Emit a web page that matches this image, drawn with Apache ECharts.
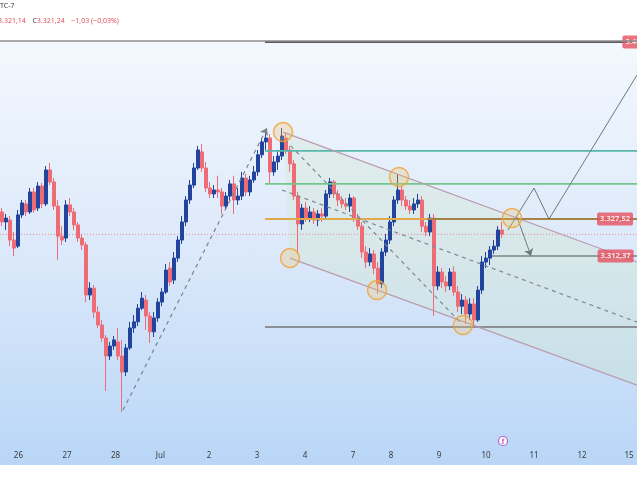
<!DOCTYPE html>
<html><head><meta charset="utf-8">
<script src="https://cdn.jsdelivr.net/npm/echarts@6/dist/echarts.min.js"></script>
<style>
html,body{margin:0;padding:0;background:#fff;}
#c{width:637px;height:478px;background:linear-gradient(to bottom,#ffffff 0px,#ffffff 41px,#f4f8fe 42px,#dce9fa 250px,#b9d6f7 465px,#ffffff 465px,#ffffff 478px);}
</style></head><body><div id="c"></div>
<script>
// ---- axis labels ----
const dayLabels = ['26','27','28','Jul','2','3','4','7','8','9','10','11','12','15'];
const dayPositions = [4.1,16.25,28.4,39.6,51.75,63.75,75.75,87.75,97.25,109.25,121,133,145,156.75];

// ---- OHLC (bar index = array index) ----
const opens = [3330.4,3326.3,3327.1,3318.9,3316.4,3329.2,3333.7,3330.4,3338.6,3332.0,
3341.0,3333.7,3347.6,3342.7,3332.8,3320.5,3319.7,3333.3,3330.4,3325.1,
3319.7,3316.9,3296.4,3299.2,3289.4,3284.1,3278.8,3271.4,3275.5,3277.2,
3271.4,3264.9,3274.7,3282.9,3285.4,3291.0,3294.3,3287.8,3281.3,3287.0,
3293.5,3297.6,3307.4,3302.5,3311.5,3318.9,3326.3,3335.3,3341.4,3348.4,
3355.0,3348.4,3340.2,3337.8,3339.4,3338.6,3332.8,3336.9,3341.9,3335.3,
3336.9,3344.3,3338.6,3343.5,3346.8,3353.8,3359.1,3360.7,3346.8,3350.9,
3353.3,3360.7,3355.8,3350.1,3336.9,3325.5,3332.0,3327.9,3330.4,3327.1,
3329.6,3328.7,3337.8,3342.7,3337.8,3335.3,3333.7,3332.8,3336.1,3327.9,
3324.6,3314.0,3309.9,3313.2,3307.4,3300.9,3314.0,3318.9,3326.3,3335.3,
3339.4,3335.3,3332.8,3331.2,3333.7,3335.3,3324.6,3322.2,3327.9,3300.1,
3305.8,3301.7,3300.1,3305.8,3297.6,3291.8,3294.3,3288.6,3292.7,3286.2,
3298.4,3309.9,3311.5,3314.8,3316.4,3323.0];
const closes = [3326.3,3327.9,3318.9,3315.6,3329.2,3334.1,3330.4,3338.6,3331.2,3341.0,
3333.7,3347.6,3342.7,3332.8,3320.5,3318.9,3333.3,3330.4,3325.1,3319.7,
3316.9,3296.4,3299.2,3289.4,3284.1,3278.8,3271.4,3275.5,3278.0,3271.4,
3264.9,3274.7,3282.9,3285.4,3291.0,3295.1,3287.8,3281.3,3287.0,3293.5,
3297.6,3306.6,3301.7,3311.5,3318.9,3326.3,3335.3,3341.4,3348.4,3355.8,
3348.4,3340.2,3337.8,3339.4,3338.6,3332.8,3336.9,3341.9,3335.3,3336.9,
3344.3,3338.6,3343.5,3346.8,3353.8,3359.1,3360.7,3346.8,3350.9,3353.3,
3361.5,3355.8,3350.1,3336.9,3325.5,3332.0,3327.9,3330.4,3327.1,3329.6,
3328.7,3337.8,3342.7,3337.8,3335.3,3333.7,3332.8,3336.1,3327.9,3324.6,
3314.0,3309.9,3313.2,3307.4,3300.9,3314.0,3318.9,3326.3,3335.3,3339.4,
3335.3,3332.8,3331.2,3333.7,3335.3,3324.6,3322.2,3327.9,3300.1,3305.8,
3301.7,3300.1,3305.8,3297.6,3291.8,3294.3,3288.6,3292.7,3286.2,3298.4,
3309.9,3311.5,3314.8,3316.4,3323.0,3321.24];
const lows = [3324.6,3323.0,3316.4,3312.3,3315.6,3327.9,3328.7,3329.6,3330.0,3330.8,
3332.0,3332.8,3341.4,3331.2,3310.7,3316.9,3318.1,3328.7,3323.0,3318.1,
3314.8,3293.5,3294.3,3287.0,3282.9,3277.2,3257.1,3269.8,3273.9,3269.8,
3248.5,3263.2,3273.9,3280.9,3283.7,3290.2,3282.1,3276.8,3279.2,3285.4,
3291.8,3296.8,3300.1,3300.9,3309.9,3317.3,3324.6,3333.7,3340.2,3347.6,
3346.8,3338.6,3336.1,3336.1,3336.1,3329.6,3331.2,3335.3,3329.6,3333.3,
3335.3,3336.9,3336.9,3342.3,3345.2,3352.5,3355.8,3341.9,3345.2,3347.6,
3351.7,3354.1,3346.8,3335.3,3313.2,3323.0,3326.3,3326.3,3325.5,3324.6,
3326.3,3327.1,3336.1,3336.1,3332.8,3332.0,3331.2,3330.4,3326.3,3323.0,
3311.5,3307.4,3308.2,3304.9,3296.8,3299.2,3312.3,3317.3,3324.6,3333.7,
3332.8,3331.2,3329.6,3329.6,3332.0,3322.2,3320.5,3320.5,3287.8,3298.4,
3299.2,3297.6,3298.4,3296.0,3289.4,3288.6,3284.5,3286.2,3283.5,3285.4,
3296.8,3307.4,3308.7,3313.2,3314.8,3319.7];
const highs = [3332.0,3329.6,3328.7,3322.2,3331.2,3335.3,3335.3,3340.2,3340.2,3342.7,
3342.3,3349.2,3350.5,3344.3,3335.3,3324.6,3335.3,3336.1,3332.0,3326.3,
3321.4,3318.1,3301.7,3300.5,3291.8,3286.2,3280.0,3277.2,3279.6,3282.9,
3278.0,3276.4,3285.4,3288.2,3292.7,3297.6,3296.4,3289.4,3289.4,3295.1,
3299.2,3309.1,3309.9,3314.0,3320.5,3328.7,3336.9,3343.5,3350.5,3357.4,
3358.2,3350.9,3342.7,3341.4,3345.2,3340.2,3338.6,3343.5,3345.2,3340.2,
3346.8,3346.0,3345.2,3349.2,3355.8,3360.7,3364.0,3362.3,3353.3,3355.8,
3364.8,3363.1,3357.4,3351.7,3338.6,3333.7,3334.5,3332.8,3332.0,3331.2,
3332.0,3339.4,3344.3,3343.5,3339.4,3336.9,3336.1,3337.8,3336.9,3329.6,
3326.3,3316.4,3315.6,3314.8,3309.9,3315.6,3321.4,3328.7,3336.9,3346.0,
3341.0,3336.9,3335.3,3336.1,3337.8,3336.9,3326.3,3329.6,3329.6,3308.2,
3307.4,3304.2,3307.4,3308.2,3300.1,3296.8,3296.0,3295.1,3295.1,3300.1,
3312.3,3314.0,3316.4,3318.9,3324.6,3326.3];

// ---- drawings (bar index, price) ----
const channelTop = [[70.25,3363.1],[158.75,3309.9]];
const channelBottom = [[72.0,3311.5],[158.75,3259.5]];
const channelMid = [[70.0,3339.4],[158.75,3285.3]];
const swingUp = [[30.25,3249.3],[66.25,3364.8]];
const swingDown = [[70.75,3359.9],[114.5,3285.3]];
const projection = [[126.5,3323.0],[133.0,3340.2],[136.75,3327.5],[158.75,3386.5]];
const projectionDrop = [[128.75,3328.3],[132.25,3312.4]];
const pivots = [[70.25,3363.1],[72.0,3311.5],[93.75,3298.4],[99.25,3344.7],[115.25,3284.1],[127.5,3327.9]];
const levelStart = 65.75;
const levelTop = 3400.0, levelTeal = 3355.4, levelGreen = 3341.9, levelGold = 3327.52, levelLow = 3283.3;
const levelTarget = 3312.37, targetStart = 122.5, goldDarkStart = 106.25;
const lastPrice = 3321.24;
const tagPrices = [3327.52, 3312.37, 3400.00];
const tagTexts = ['3.327,52', '3.312,37', '3.400,00'];
const tagX = [153.25, 153.4, 159.6];
const X_MIN = -0.5, X_MAX = 158.75;

const candleData = opens.map((o,i)=>[i,o,closes[i],lows[i],highs[i]]);

function hline(y, x0, color, width, type, z){
  return {type:'line', data:[[x0,y],[X_MAX,y]], symbol:'none', silent:true, animation:false,
    lineStyle:{color:color,width:width,type:type||'solid'}, z:z||4};
}
function pline(pts, color, width, type, z){
  return {type:'line', data:pts, symbol:'none', silent:true, animation:false,
    lineStyle:{color:color,width:width,type:type||'solid'}, z:z||4};
}

const chart = echarts.init(document.getElementById('c'), null, {renderer:'canvas'});
chart.setOption({
  backgroundColor:'transparent',
  animation:false,
  grid:{left:0,right:0,top:41,bottom:33},
  xAxis:{type:'value', min:X_MIN, max:X_MAX,
    axisLine:{show:false}, axisTick:{show:false}, splitLine:{show:false},
    axisLabel:{customValues:dayPositions, color:'#3a3a3a', fontSize:8, margin:7, fontFamily:'Noto Sans',
      formatter:function(v){let best=0,bd=1e9;dayPositions.forEach((p,k)=>{const d=Math.abs(p-v);if(d<bd){bd=d;best=k;}});return bd<0.01?dayLabels[best]:'';}}},
  yAxis:{type:'value', min:3234.97, max:3400.41, show:false, scale:true},
  graphic:[
    {type:'line', shape:{x1:0,y1:41,x2:637,y2:41}, style:{stroke:'#8d8d8d',lineWidth:1.5}, z:10},
    {type:'text', left:0, top:2, style:{text:'TC-7', fill:'#3a3a3a', font:'7px Noto Sans'}},
    {type:'text', left:-2, top:15, style:{text:'{r|3.321,14}  {k|C}{r|3.321,24}  {r|−1,03 (−0,03%)}',
      rich:{r:{fill:'#e0505e', font:'7px Noto Sans'}, k:{fill:'#3a3a3a', font:'7px Noto Sans'}}}},
    {type:'circle', shape:{cx:503,cy:441,r:4.5}, style:{fill:'#ffffff', stroke:'#b660c4', lineWidth:1.2}, z:10},
    {type:'text', x:503, y:441, style:{text:'ƒ', fill:'#b660c4', font:'bold 6px DejaVu Sans', align:'center', verticalAlign:'middle'}, z:11}
  ],
  series:[
    {type:'custom', z:1, silent:true, animation:false, data:[[0]],
      renderItem:function(params, api){
        const pts=[channelTop[0],channelTop[1],channelBottom[1],channelBottom[0]].map(p=>api.coord(p));
        return {type:'polygon', shape:{points:pts}, style:{fill:'rgba(205,230,200,0.3)'}};
      }},
    {type:'candlestick', z:3, data:candleData, encode:{x:0,y:[1,2,3,4]}, barWidth:3, animation:false, silent:true,
      itemStyle:{color:'#23449c', color0:'#ee6c76', borderColor:'#23449c', borderColor0:'#ee6c76', borderWidth:1},
      markLine:{silent:true, animation:false, symbol:['none','arrow'], symbolSize:7, label:{show:false},
        data:[
          [{coord:swingUp[0], lineStyle:{color:'#7b838c',width:1.2,type:[4,4]}},{coord:swingUp[1]}],
          [{coord:projectionDrop[0], lineStyle:{color:'#6d7878',width:1,type:'solid'}},{coord:projectionDrop[1]}]
        ]}},
    hline(lastPrice, X_MIN, '#f08a8f', 1, [1,2], 2),
    hline(levelTop, levelStart, '#5a5a5a', 2, 'solid', 4),
    hline(levelTeal, levelStart, '#58b6aa', 1.6, 'solid', 4),
    hline(levelGreen, levelStart, '#74c68c', 1.6, 'solid', 4),
    hline(levelGold, levelStart, '#e2a94c', 2, 'solid', 4),
    hline(levelGold, goldDarkStart, '#6a5d3c', 1, 'solid', 5),
    hline(levelLow, levelStart, '#8b9096', 2, 'solid', 4),
    hline(levelTarget, targetStart, '#7a8786', 1.6, 'solid', 4),
    pline(channelTop, '#b99aae', 1.2, 'solid', 4),
    pline(channelBottom, '#b99aae', 1.2, 'solid', 4),
    pline(channelMid, '#7f8792', 1.2, [4,4], 4),
    pline(swingDown, '#7f8792', 1.2, [4,4], 4),
    pline(projection, '#6d7878', 1, 'solid', 4),
    {type:'scatter', z:6, silent:true, animation:false, data:pivots, symbol:'circle', symbolSize:19,
      itemStyle:{color:'rgba(246,190,100,0.35)', borderColor:'#f0a236', borderWidth:1.5}},
    {type:'scatter', z:8, silent:true, animation:false, clip:false, symbolSize:1,
      data:tagPrices.map((p,i)=>({value:[tagX[i],p], label:{formatter:tagTexts[i]}})),
      itemStyle:{color:'rgba(0,0,0,0)'},
      label:{show:true, position:'inside', color:'#ffffff', fontSize:7.5, fontWeight:'bold', fontFamily:'Noto Sans',
        backgroundColor:'#e5505f', borderRadius:2, padding:[3,3,2,3]}}
  ]
});
</script></body></html>
